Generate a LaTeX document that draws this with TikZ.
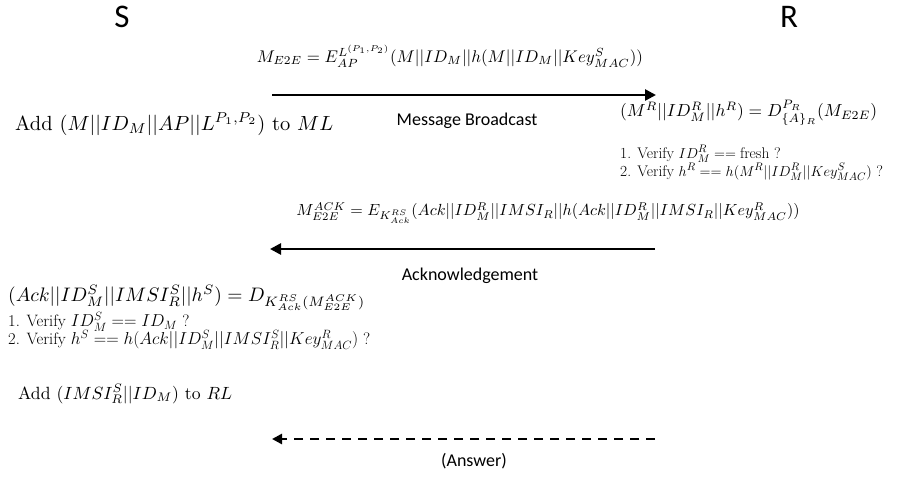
\documentclass[tikz,border=0pt]{standalone}
\usepackage{fontspec}
\usepackage{amsmath}
\usepackage{graphicx}
\usetikzlibrary{arrows.meta}
\newfontfamily\calib{Carlito}
\tikzset{
  party/.style={font=\calib\fontsize{33}{38}\selectfont, inner sep=0pt},
  lbl/.style={font=\calib\fontsize{18}{22}\selectfont, inner sep=0pt},
  msg/.style={line width=2.6pt, -{Triangle[length=11pt,width=11pt]}},
  dmsg/.style={line width=2.6pt, dash pattern=on 9pt off 7pt, -{Triangle[length=10pt,width=10pt]}},
  eq/.style={inner sep=0pt},
  vline/.style={inner sep=0pt, anchor=west}
}
\begin{document}
\begin{tikzpicture}[x=1pt,y=-1pt]
\useasboundingbox (0,0) rectangle (909,481);
\node[party] (S) at (122,17) {S};
\node[party] (R) at (789,17) {R};

\node[eq] (e1) at (450,56) {\resizebox{386pt}{!}{$M_{E2E} = E^{L^{(P_1,P_2)}}_{AP}(M||ID_M||h(M||ID_M||Key^S_{MAC}))$}};
\coordinate (a1s) at (272,95);
\coordinate (a1e) at (656,95);
\draw[msg] (a1s) -- (a1e);
\node[lbl] (mb) at (467,121) {Message Broadcast};
\node[eq, anchor=west] (addml) at (15,124) {\resizebox{318pt}{!}{Add $(M||ID_M||AP||L^{P_1,P_2})$ to $ML$}};
\node[eq, anchor=west] (dr) at (620,113) {\resizebox{257pt}{!}{$(M^R||ID^R_M||h^R) = D^{P_R}_{\{A\}_R}(M_{E2E})$}};
\node[vline, font=\fontsize{15.4}{17}\selectfont] (vr1) at (620,154) {1. Verify $ID^R_M == \text{fresh}$ ?};
\node[vline, font=\fontsize{15.4}{17}\selectfont] (vr2) at (620,172) {2. Verify $h^R == h(M^R||ID^R_M||Key^S_{MAC})$ ?};

\node[eq] (e2) at (548,213) {\resizebox{503pt}{!}{$M^{ACK}_{E2E} = E_{K^{RS}_{Ack}}(Ack||ID^R_M||IMSI_R||h(Ack||ID^R_M||IMSI_R||Key^R_{MAC}))$}};
\coordinate (a2s) at (655,249);
\coordinate (a2e) at (270,249);
\draw[msg] (a2s) -- (a2e);
\node[lbl] (ack) at (470,276) {Acknowledgement};
\node[eq, anchor=west] (ds) at (8,298) {\resizebox{357pt}{!}{$(Ack||ID^S_M||IMSI^S_R||h^S) = D_{K^{RS}_{Ack}(M^{ACK}_{E2E})}$}};
\node[vline, font=\fontsize{16.5}{18}\selectfont] (vs1) at (8,322) {1. Verify $ID^S_M == ID_M$ ?};
\node[vline, font=\fontsize{16.5}{18}\selectfont] (vs2) at (8,340) {2. Verify $h^S == h(Ack||ID^S_M||IMSI^S_R||Key^R_{MAC})$ ?};
\node[eq, anchor=west] (addrl) at (18,394) {\resizebox{214pt}{!}{Add $(IMSI^S_R||ID_M)$ to $RL$}};

\coordinate (a3s) at (655,439);
\coordinate (a3e) at (272,439);
\draw[dmsg] (a3s) -- (a3e);
\node[lbl] (ans) at (474,461) {(Answer)};
\end{tikzpicture}
\end{document}
